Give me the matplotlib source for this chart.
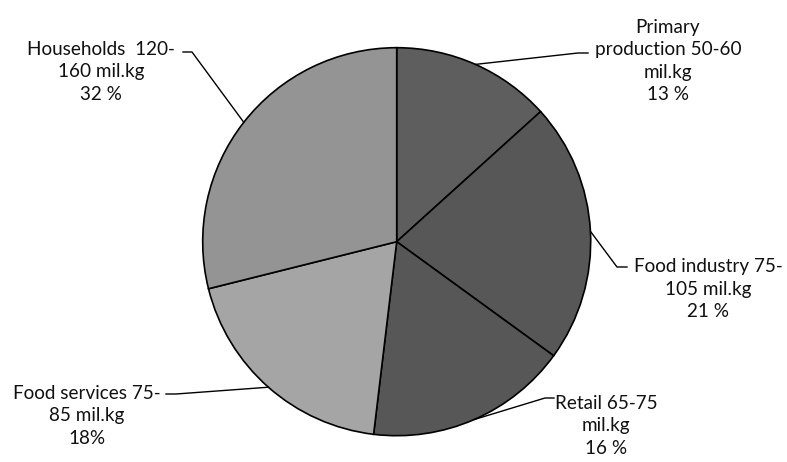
import numpy as np
import matplotlib.pyplot as plt

# shares as drawn in the pie (clockwise from 12 o'clock)
sectors = ["Primary production", "Food industry", "Retail", "Food services", "Households"]
shares = [13.3, 21.7, 16.9, 19.2, 28.9]
label_texts = [
    "Primary\nproduction 50-60\nmil.kg\n13 %",
    "Food industry 75-\n105 mil.kg\n21 %",
    "Retail 65-75\nmil.kg\n16 %",
    "Food services 75-\n85 mil.kg\n18%",
    "Households  120-\n160 mil.kg\n32 %",
]
colors = ["#5e5e5e", "#575757", "#575757", "#a5a5a5", "#949494"]

# --- layout in pixel units (y up) ---
W, H = 787, 462
CX, CY, R = 396.7, 462 - 241.7, 194

# text block centres and leader elbows (pixel coords, y down)
text_pos = [(668, 61), (708, 289), (606, 426), (87, 416), (101, 72)]
elbows = [((578, 53), (588, 53)),
          ((617, 267), (627, 267)),
          ((545, 398), (554, 398)),
          ((176, 394), (166, 394)),
          ((192, 52), (183, 52))]

fig = plt.figure(figsize=(W / 100, H / 100), dpi=100)
ax = fig.add_axes([0, 0, 1, 1])

wedges, _ = ax.pie(shares, colors=colors, startangle=90, counterclock=False,
                   center=(CX, CY), radius=R,
                   wedgeprops=dict(edgecolor="black", linewidth=1.2))

# pie() resets the limits, so set them afterwards
ax.set_xlim(0, W)
ax.set_ylim(0, H)
ax.set_aspect("equal")
ax.axis("off")

for w, txt, (tx, ty), (e1, e2) in zip(wedges, label_texts, text_pos, elbows):
    mid = np.deg2rad((w.theta1 + w.theta2) / 2)
    ax_x = CX + R * np.cos(mid)
    ax_y = CY + R * np.sin(mid)
    xs = [ax_x, e1[0], e2[0]]
    ys = [ax_y, H - e1[1], H - e2[1]]
    ax.plot(xs, ys, color="black", linewidth=1.0)
    ax.text(tx, H - ty, txt, ha="center", va="center", fontsize=13.6,
            family="Lato", color="#111111", linespacing=1.37)

fig.savefig("out.png", dpi=100)
